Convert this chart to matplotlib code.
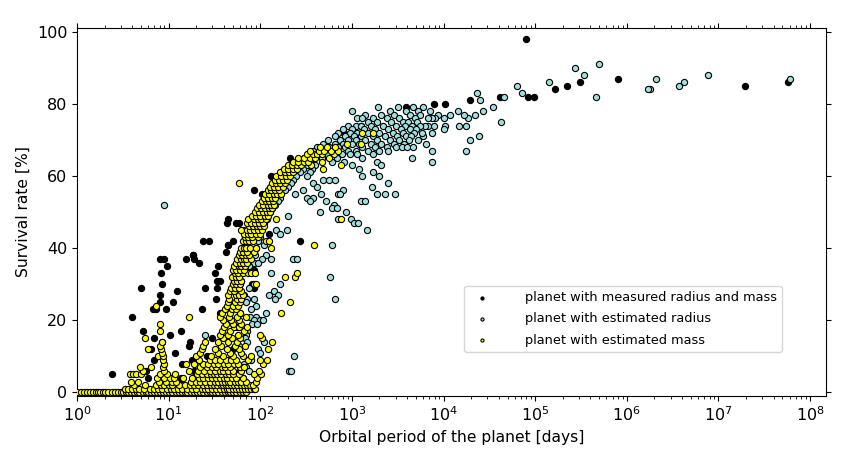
import matplotlib
matplotlib.use("Agg")
import matplotlib.pyplot as plt

# (orbital period [days], survival rate [%])
measured_points = [
    (2.4, 5), (4.0, 21), (5.0, 29), (5.3, 17), (5.6, 6), (6.0, 4), (6.4, 12), (6.8, 23), (7.2, 23),
    (6.9, 9), (8.0, 27), (8.1, 37), (8.3, 33), (8.5, 30), (8.0, 25), (8.4, 14), (9.0, 37), (9.3, 23),
    (9.5, 35), (10.4, 16), (11.2, 25), (11.7, 11), (12.4, 28), (13.8, 17), (15.5, 37), (16.5, 13),
    (17.3, 14), (18.3, 38), (21.5, 36), (23, 23), (24, 42), (27.5, 42), (25, 29), (30, 15), (32, 33),
    (34, 31), (33, 26), (35, 35), (37, 22), (42, 39), (43, 47), (44, 48), (45, 41), (51, 42), (55, 47),
    (58, 47), (65, 45), (68, 39), (85, 56), (82, 30), (85, 34), (105, 55), (130, 60), (125, 44),
    (140, 52), (160, 55), (210, 65), (270, 42), (9.0, 2), (10.5, 4), (12, 3), (13.5, 4), (18, 9),
    (19, 6), (20, 3), (26, 10), (28, 6), (32, 8), (40, 5), (50, 12), (55, 4), (60, 2), (45, 2),
    (8.5, 2), (15, 1), (18, 2), (7.0, 15), (36, 22), (44, 9), (48, 3), (11.5, 1), (14, 8),
    (18.5, 38), (19, 37), (34, 29), (36, 31), (44, 41), (85, 29), (75, 37), (95, 45),
    (810, 72), (1250, 74), (3900, 79), (7900, 80), (10400, 80), (19500, 81), (41500, 82),
    (80000, 98), (83000, 82), (97000, 82), (1.65e5, 84), (2.2e5, 85), (3.1e5, 86), (8.1e5, 87),
    (1.95e7, 85), (5.7e7, 86),
]

est_radius_points = [
    # long periods
    (6.0e7, 87), (7.6e6, 88), (4.2e6, 86), (3.7e6, 85), (2.1e6, 87), (1.8e6, 84), (1.7e6, 84),
    (5.0e5, 91), (4.6e5, 82), (3.4e5, 88), (2.7e5, 90), (1.4e5, 86), (7.1e4, 83), (6.3e4, 85),
    (4.6e4, 82), (4.2e4, 75), (3.5e4, 79), (2.7e4, 78), (2.5e4, 81), (2.3e4, 83), (2.2e4, 77),
    (2.45e4, 71), (1.95e4, 70), (1.74e4, 67), (1.86e4, 76), (1.66e4, 77), (1.74e4, 74), (1.48e4, 74),
    (1.45e4, 78), (1.17e4, 77), (1.05e4, 74), (1.0e4, 73), (1.02e4, 76), (8.7e3, 77), (8.1e3, 76),
    (7.4e3, 76), (6.8e3, 76), (7.1e3, 78), (7.8e3, 74), (6.8e3, 74), (6.2e3, 74), (7.4e3, 72),
    (6.5e3, 69), (7.4e3, 67), (7.4e3, 64), (5.9e3, 79), (5.9e3, 71),
    # dense group
    (1950, 79), (3200, 79), (4600, 79),
    (1000, 78), (2600, 78), (3900, 78), (5300, 78),
    (1400, 77), (2100, 77), (2900, 77), (4300, 77), (5600, 77),
    (1150, 76), (1300, 76), (1700, 76), (2400, 76), (3300, 76), (4900, 76),
    (1500, 75), (1900, 75), (2700, 75), (3600, 75), (4100, 75), (5100, 75),
    (900, 74), (1100, 74), (1250, 74), (1600, 74), (2200, 74), (3000, 74), (3800, 74), (4500, 74), (5500, 74),
    (800, 73), (1000, 73), (1350, 73), (1800, 73), (2500, 73), (3400, 73), (4300, 73), (5000, 73),
    (700, 72), (950, 72), (1150, 72), (1500, 72), (2000, 72), (2800, 72), (3600, 72), (4800, 72), (5800, 72),
    (650, 71), (850, 71), (1050, 71), (1250, 71), (1700, 71), (2300, 71), (3100, 71), (3900, 71), (4400, 71),
    (550, 70), (750, 70), (900, 70), (1100, 70), (1400, 70), (1900, 70), (2600, 70), (3300, 70), (4200, 70), (5200, 70),
    (480, 69), (650, 69), (800, 69), (1000, 69), (1200, 69), (1600, 69), (2100, 69), (2900, 69), (3700, 69),
    (420, 68), (560, 68), (700, 68), (850, 68), (1300, 68), (1800, 68), (2400, 68), (3000, 68), (3500, 68), (4000, 68), (4600, 68),
    (380, 67), (500, 67), (620, 67), (900, 67), (1100, 67), (1500, 67), (2000, 67), (2500, 67),
    (330, 66), (440, 66), (540, 66), (780, 66), (950, 66), (1150, 66), (1700, 66),
    (300, 65), (390, 65), (470, 65), (680, 65), (1300, 65), (4500, 65),
    (280, 64), (350, 64), (600, 64), (820, 64), (1900, 64),
    (250, 63), (320, 63), (400, 63), (1000, 63), (2100, 63),
    (230, 62), (290, 62), (370, 62), (1200, 62),
    (210, 61), (270, 61), (350, 61), (1700, 61),
    (190, 60), (245, 60), (320, 60), (1300, 60), (2000, 60),
    (175, 59), (230, 59), (480, 59), (560, 59), (660, 59),
    (160, 58), (215, 58), (380, 58), (2500, 58),
    (150, 57), (200, 57), (420, 57), (1650, 57),
    (140, 56), (185, 56), (290, 56), (800, 56),
    (130, 55), (240, 55), (460, 55), (700, 55), (750, 55), (1900, 55), (2300, 55), (2950, 55),
    (125, 54), (165, 54), (320, 54), (380, 54),
    (115, 53), (155, 53), (350, 53), (520, 53), (1250, 53), (1380, 53),
    (110, 52), (145, 52), (640, 52),
    (100, 51), (135, 51), (600, 51), (680, 51),
    (95, 50), (128, 50), (450, 50), (870, 50),
    # lower band
    (200, 49), (88, 49), (118, 48), (700, 48), (980, 48), (110, 47), (1060, 47), (1160, 47),
    (105, 46), (90, 46), (150, 45), (195, 45), (1450, 45), (100, 45), (165, 44), (82, 44),
    (100, 43), (76, 43), (95, 42), (110, 41), (600, 41), (90, 40), (72, 40), (82, 39),
    (88, 38), (115, 38), (105, 37), (130, 37), (225, 37), (250, 37), (85, 36), (95, 36),
    (62, 35), (75, 35), (68, 34), (130, 33), (60, 33), (580, 32), (62, 31), (165, 30), (52, 30),
    (75, 29), (140, 28), (58, 28), (125, 27), (155, 27), (66, 27), (72, 26), (85, 26), (145, 26),
    (660, 26), (70, 25), (52, 24), (90, 24), (80, 23), (60, 22), (115, 22), (78, 21), (90, 21),
    (85, 20), (100, 20), (108, 20), (82, 19), (92, 19), (56, 18), (72, 17), (25, 16), (70, 16),
    (68, 15), (72, 14), (110, 14), (58, 13), (95, 12), (100, 11), (235, 10), (45, 9), (74, 9),
    (80, 9), (40, 8), (66, 8), (38, 7), (62, 7), (70, 7), (36, 6), (60, 6), (75, 6), (205, 6),
    (215, 6), (55, 5), (50, 4), (65, 4), (12, 3), (46, 3), (58, 3), (14, 2), (42, 2), (54, 2),
    (44, 1), (52, 1), (8.9, 52),
]

est_mass_points = [
    # y = 0 row
    (1.0, 0), (1.1, 0), (1.2, 0), (1.3, 0), (1.4, 0), (1.5, 0), (1.6, 0), (1.7, 0), (1.8, 0), (1.9, 0),
    (2.0, 0), (2.2, 0), (2.4, 0), (2.6, 0), (2.8, 0), (3.0, 0), (3.2, 0), (3.4, 0), (3.6, 0), (3.9, 0),
    (4.2, 0), (4.5, 0), (4.8, 0), (5.2, 0), (5.6, 0), (6.0, 0), (6.5, 0), (7.0, 0), (7.5, 0), (8.0, 0),
    (8.6, 0), (9.3, 0), (10, 0), (11, 0), (12, 0), (13, 0), (14, 0), (15, 0), (16, 0), (17.5, 0),
    (19, 0), (20.5, 0), (22, 0), (24, 0), (26, 0), (28, 0), (30, 0), (32, 0), (35, 0), (38, 0),
    (41, 0), (44, 0), (47, 0), (51, 0), (55, 0), (60, 0), (65, 0), (70, 0),
    # y = 1
    (3.3, 1), (3.6, 1), (4.0, 1), (4.4, 1), (4.8, 1), (5.4, 1), (6.2, 1), (7.0, 1), (7.7, 1), (8.5, 1),
    (9.5, 1), (10.5, 1), (11.5, 1), (12.5, 1), (14, 1), (16, 1), (18, 1), (20, 1), (23, 1), (25, 1),
    (27, 1), (30, 1), (33, 1), (36, 1), (40, 1), (43, 1), (46, 1), (50, 1), (54, 1), (58, 1), (63, 1),
    (68, 1), (74, 1), (80, 1), (85, 1), (88, 1),
    # y = 2
    (4.2, 2), (5.5, 2), (7.3, 2), (8.2, 2), (9.0, 2), (10.0, 2), (11.0, 2), (13, 2), (15, 2), (17, 2),
    (19, 2), (21, 2), (24, 2), (26, 2), (29, 2), (31, 2), (34, 2), (37, 2), (39, 2), (42, 2), (45, 2),
    (48, 2), (52, 2), (56, 2), (61, 2), (66, 2), (72, 2), (78, 2), (84, 2),
    # y = 3 .. 9
    (3.9, 3), (4.6, 3), (7.8, 3), (9.3, 3), (10.8, 3), (12, 3), (17.5, 3), (20, 3), (22, 3), (25, 3),
    (28, 3), (32, 3), (35, 3), (38, 3), (41, 3), (44, 3), (47, 3), (53, 3), (57, 3), (62, 3), (70, 3), (90, 3),
    (7.5, 4), (8.8, 4), (10.3, 4), (11.4, 4), (14.5, 4), (18, 4), (21.5, 4), (24, 4), (27, 4), (30, 4),
    (33, 4), (36, 4), (40, 4), (43, 4), (49, 4), (55, 4), (64, 4), (92, 4),
    (3.8, 5), (4.1, 5), (4.4, 5), (5.0, 5), (8.0, 5), (9.6, 5), (11.8, 5), (20.5, 5), (23, 5), (26, 5),
    (29, 5), (31, 5), (34, 5), (37, 5), (42, 5), (46, 5), (51, 5), (58, 5), (86, 5), (103, 5),
    (5.3, 6), (9.0, 6), (16.5, 6), (21, 6), (24.5, 6), (28, 6), (32, 6), (36, 6), (39, 6), (45, 6),
    (50, 6), (62, 6), (97, 6),
    (4.9, 7), (6.5, 7), (8.6, 7), (22, 7), (26, 7), (30, 7), (33, 7), (38, 7), (41, 7), (47, 7), (60, 7), (66, 7),
    (8.9, 8), (15.5, 8), (19, 8), (24, 8), (27, 8), (31, 8), (35, 8), (40, 8), (44, 8), (52, 8), (57, 8), (107, 8),
    (8.7, 9), (21.5, 9), (28, 9), (32, 9), (36, 9), (42, 9), (48, 9), (54, 9), (73, 9), (117, 9), (100, 9),
    # y = 10 .. 20
    (7.6, 10), (8.6, 10), (20, 10), (29, 10), (39, 10), (51, 10), (65, 10), (80, 10),
    (8.5, 11), (22, 11), (35, 11), (47, 11), (62, 11),
    (5.9, 12), (8.3, 12), (23, 12), (32, 12), (43, 12), (58, 12), (121, 12),
    (8.1, 13), (24, 13), (37, 13), (53, 13), (68, 13),
    (8.4, 14), (25, 14), (35, 14), (44, 14), (56, 14), (133, 14),
    (5.5, 15), (39, 15), (49, 15), (60, 15), (105, 15),
    (36, 16), (45, 16), (57, 16), (100, 16),
    (8.0, 17), (38, 17), (47, 17), (66, 17),
    (40, 18), (52, 18), (59, 18), (72, 18),
    (8.0, 19), (42, 19), (50, 19), (62, 19),
    (39, 20), (48, 20), (58, 20),
    # y = 21 .. 33
    (16.5, 21), (36, 21), (46, 21), (56, 21), (70, 21),
    (38, 22), (47, 22), (60, 22), (170, 22),
    (41, 23), (49, 23), (54, 23),
    (7.2, 24), (43, 24), (51, 24), (57, 24),
    (44, 25), (53, 25), (60, 25), (210, 25),
    (46, 26), (56, 26), (62, 26),
    (45, 27), (54, 27), (58, 27), (64, 27),
    (47, 28), (52, 28), (61, 28),
    (48, 29), (53, 29), (59, 29),
    (50, 30), (55, 30), (60, 30), (85, 30), (89, 30),
    (52, 31), (56, 31), (62, 31),
    (49, 32), (54, 32), (58, 32), (185, 32), (240, 32),
    (53, 33), (57, 33), (64, 33), (73, 33), (80, 33), (88, 33), (250, 33),
    # y = 34 .. 49
    (50, 34), (55, 34), (60, 34), (66, 34),
    (52, 35), (58, 35), (62, 35), (68, 35),
    (55, 36), (60, 36), (65, 36), (72, 36),
    (56, 37), (61, 37), (66, 37), (70, 37), (80, 37),
    (58, 38), (63, 38), (69, 38), (75, 38),
    (60, 39), (65, 39), (72, 39), (85, 39),
    (62, 40), (67, 40), (70, 40), (78, 40), (90, 40), (130, 40),
    (390, 41),
    (64, 42), (70, 42), (76, 42), (84, 42), (115, 42), (125, 42),
    (68, 43), (74, 43), (82, 43), (95, 43),
    (66, 44), (73, 44), (80, 44), (90, 44), (100, 44),
    (62, 45), (71, 45), (78, 45), (86, 45), (95, 45), (105, 45),
    (75, 46), (83, 46), (92, 46), (100, 46), (110, 46),
    (72, 47), (80, 47), (88, 47), (98, 47), (108, 47),
    (74, 48), (85, 48), (95, 48), (103, 48), (115, 48), (150, 48), (760, 48),
    (82, 49), (90, 49), (100, 49), (112, 49), (120, 49),
    # y = 50 .. 72
    (88, 50), (97, 50), (107, 50), (118, 50), (128, 50),
    (92, 51), (102, 51), (113, 51), (124, 51), (135, 51),
    (98, 52), (108, 52), (120, 52), (130, 52), (142, 52),
    (105, 53), (115, 53), (126, 53), (138, 53),
    (110, 54), (122, 54), (133, 54), (146, 54),
    (112, 55), (125, 55), (140, 55), (152, 55), (170, 55),
    (120, 56), (132, 56), (145, 56), (160, 56),
    (128, 57), (140, 57), (155, 57), (175, 57),
    (59, 58), (135, 58), (150, 58), (165, 58), (185, 58),
    (145, 59), (160, 59), (178, 59), (195, 59),
    (150, 60), (170, 60), (190, 60), (210, 60),
    (165, 61), (185, 61), (205, 61), (230, 61),
    (180, 62), (200, 62), (225, 62), (250, 62), (480, 62),
    (200, 63), (220, 63), (250, 63), (280, 63), (355, 63), (760, 63),
    (230, 64), (260, 64), (300, 64), (330, 64), (470, 64),
    (260, 65), (300, 65), (345, 65), (400, 65), (560, 65),
    (320, 66), (380, 66), (420, 66), (470, 66), (640, 66),
    (350, 67), (440, 67), (500, 67), (590, 67), (700, 67),
    (450, 68), (530, 68), (650, 68),
    (880, 69), (1250, 69), (1300, 72), (1700, 72),
]

series_labels = [
    "planet with measured radius and mass",
    "planet with estimated radius",
    "planet with estimated mass",
]
series_colors = ["black", "#9fe0e0", "#ffff00"]
x_ticks = [1, 10, 100, 1e3, 1e4, 1e5, 1e6, 1e7, 1e8]
y_ticks = [0, 20, 40, 60, 80, 100]

fig, ax = plt.subplots(figsize=(8.5, 4.61), dpi=100)
fig.subplots_adjust(left=0.0906, right=0.972, bottom=0.141, top=0.939)

for pts, lab, col, z in zip([measured_points, est_radius_points, est_mass_points],
                            series_labels, series_colors, [2, 3, 4]):
    xs, ys = zip(*pts)
    ax.scatter(xs, ys, s=20, c=col, edgecolors="black", linewidths=0.8, label=lab, zorder=z)

ax.set_xscale("log")
ax.set_xticks(x_ticks)
ax.set_xlim(1, 1.5e8)
ax.set_ylim(-1, 101)
ax.set_yticks(y_ticks)
ax.tick_params(which="both", top=True, right=True, direction="out")
ax.tick_params(axis="both", which="major", labelsize=11.5)

ax.set_xlabel("Orbital period of the planet [days]", fontsize=11.2)
ax.set_ylabel("Survival rate [%]", fontsize=11.2)

ax.legend(loc="lower right", bbox_to_anchor=(0.941, 0.12), borderaxespad=0, fontsize=9.3,
          markerscale=0.5, labelspacing=0.65, handletextpad=2.3, frameon=True)

fig.savefig("out.png", dpi=100)
